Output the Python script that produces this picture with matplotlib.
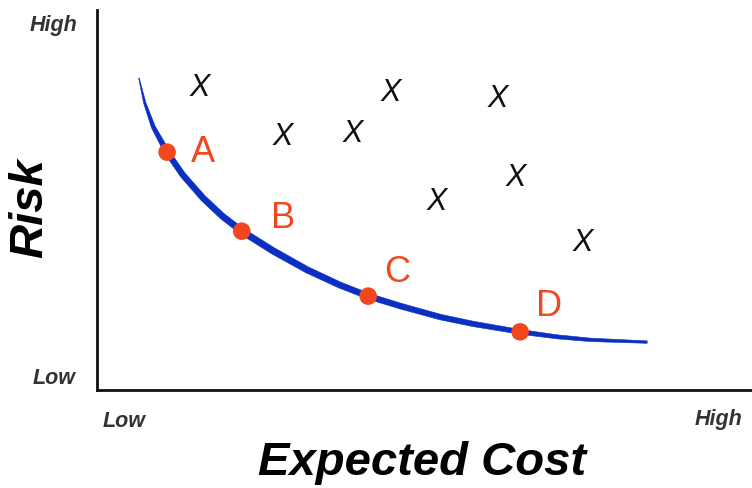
import numpy as np
import matplotlib
matplotlib.use('Agg')
import matplotlib.pyplot as plt
from matplotlib.patches import Polygon
from matplotlib.transforms import IdentityTransform

plt.rcParams['font.family'] = ['Liberation Sans', 'DejaVu Sans']

# efficient frontier (expected cost vs risk, 0-10 scale)
curve_cost = [0.64, 0.73, 0.86, 1.07, 1.31, 1.62, 1.91, 2.21, 2.69, 3.21,
              3.71, 4.14, 4.63, 5.24, 5.74, 6.46, 7.02, 7.53, 8.40]
curve_risk = [8.21, 7.55, 6.92, 6.26, 5.66, 5.05, 4.58, 4.18, 3.66, 3.16,
              2.76, 2.47, 2.21, 1.92, 1.74, 1.53, 1.40, 1.32, 1.26]

# efficient portfolios on the frontier
pt_labels = ['A', 'B', 'C', 'D']
pt_cost = [1.07, 2.21, 4.14, 6.46]
pt_risk = [6.26, 4.18, 2.47, 1.53]

# inefficient options
x_cost = [1.57, 2.84, 3.90, 4.49, 6.12, 5.19, 6.40, 7.42]
x_risk = [7.95, 6.66, 6.74, 7.81, 7.66, 4.95, 5.58, 3.87]

blue = '#0b2fc3'
red = '#f2461f'

fig = plt.figure(figsize=(7.52, 4.88), dpi=100)
ax = fig.add_axes([97/752, 98/488, 655/752, 380/488])
ax.set_xlim(0, 10)
ax.set_ylim(0, 10)
for s in ['top', 'right']:
    ax.spines[s].set_visible(False)
for s in ['left', 'bottom']:
    ax.spines[s].set_linewidth(2.0)
    ax.spines[s].set_color('#111111')
ax.set_xticks([])
ax.set_yticks([])

# tapered frontier line, built as a filled outline in pixel space
pix = ax.transData.transform(np.column_stack([curve_cost, curve_risk]))
d = np.gradient(pix, axis=0)
d /= np.linalg.norm(d, axis=1)[:, None]
nrm = np.column_stack([-d[:, 1], d[:, 0]])
seg_len = np.r_[0, np.cumsum(np.linalg.norm(np.diff(pix, axis=0), axis=1))]
frac = seg_len / seg_len[-1]
half_w = np.interp(frac, [0, 0.12, 0.35, 0.75, 1.0], [0.3, 2.8, 3.3, 2.6, 1.2])
outline = np.vstack([pix + nrm * half_w[:, None], (pix - nrm * half_w[:, None])[::-1]])
ax.add_patch(Polygon(outline, closed=True, facecolor=blue, edgecolor=blue,
                     linewidth=0.4, transform=IdentityTransform(), zorder=2))

ax.scatter(pt_cost, pt_risk, s=160, color=red, zorder=3, edgecolors='none')
offsets = [(26, 0), (30, 9), (21, 17), (21, 18)]
for lab, cx, cy, off in zip(pt_labels, pt_cost, pt_risk, offsets):
    ax.annotate(lab, (cx, cy), xytext=off, textcoords='offset points',
                ha='center', va='center', fontsize=26, color=red)

for cx, cy in zip(x_cost, x_risk):
    ax.text(cx, cy, 'X', ha='center', va='center', fontsize=22,
            style='italic', color='#111111')

lbl = dict(fontsize=15.5, fontweight='bold', style='italic', color='#333333',
           ha='center', va='center')
fig.text(0.0705, 0.947, 'High', **lbl)
fig.text(0.0718, 0.2254, 'Low', **lbl)
fig.text(0.165, 0.137, 'Low', **lbl)
fig.text(0.955, 0.141, 'High', **lbl)

fig.text(0.040, 0.574, 'Risk', rotation=90, fontsize=34, fontweight='bold',
         style='italic', ha='center', va='center')
fig.text(0.561, 0.051, 'Expected Cost', fontsize=34, fontweight='bold',
         style='italic', ha='center', va='center')

fig.savefig('out.png', dpi=100)
